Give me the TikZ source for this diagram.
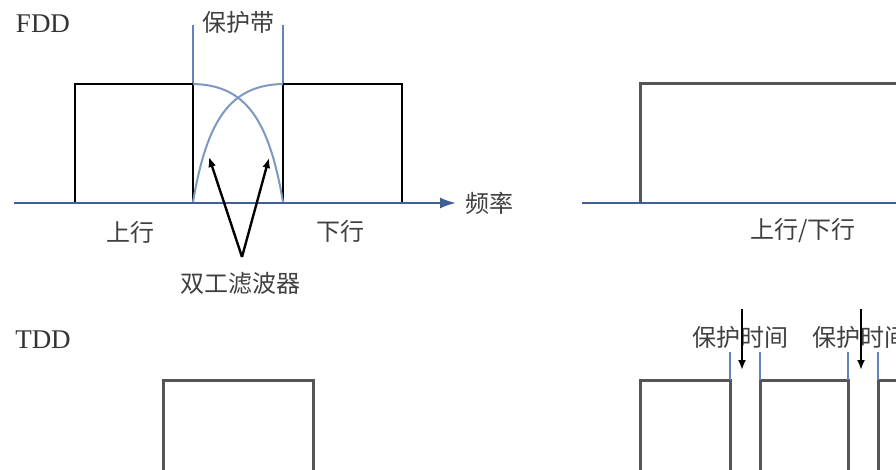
\documentclass[tikz,border=0pt]{standalone}
\usepackage{fontspec}
\setmainfont{Liberation Serif}
\newfontfamily\cjk{Noto Sans CJK SC}
\usetikzlibrary{arrows.meta}
\definecolor{axisblue}{RGB}{62,96,150}
\definecolor{guardblue}{RGB}{100,130,195}
\definecolor{filterblue}{RGB}{125,152,195}
\definecolor{boxgray}{RGB}{85,85,85}
\begin{document}
\begin{tikzpicture}[x=1pt,y=-1pt,line width=2pt,
  band/.style={draw=black,line width=2.6pt},
  slot/.style={draw=boxgray,line width=3pt},
  guard/.style={draw=guardblue,line width=1.8pt},
  filter/.style={draw=filterblue,line width=2pt},
  axis/.style={draw=axisblue,line width=2pt},
  axisarrow/.style={axis,-{Latex[length=16pt,width=11pt]},shorten >=2pt},
  label/.style={font=\cjk\fontsize{24}{28}\selectfont,text=black!75,inner sep=1pt},
  title/.style={font=\fontsize{27}{30}\selectfont,text=black!80,inner sep=0pt},
  pointer/.style={draw=black,line width=2.4pt,-{Latex[length=10pt,width=8pt]}}]
 \clip (0,0) rectangle (896,470);
 \fill[white] (0,0) rectangle (896,470);
 % FDD
 \node[title] (fdd) at (43,24) {FDD};
 \node[label] (guardband) at (238,22) {保护带};
 \draw[guard] (193,25) -- (193,84);
 \draw[guard] (283,25) -- (283,84);
 \draw[band] (75,202) -- (75,84) -- (193,84) -- (193,202);
 \draw[band] (283,202) -- (283,84) -- (402,84) -- (402,202);
 \draw[filter] (193,202) .. controls (207,120) and (230,85) .. (283,84);
 \draw[filter] (283,202) .. controls (269,120) and (246,85) .. (193,84);
 \node[label,inner sep=6pt] (freq) at (489,203) {频率};
 \coordinate (axl) at (14,203);
 \draw[axisarrow] (axl) -- (freq.west);
 \node[label] (up) at (130,232) {上行};
 \node[label] (down) at (340,231) {下行};
 \coordinate (dup) at (242,257);
 \coordinate (tipl) at (209,157);
 \coordinate (tipr) at (269,158);
 \draw[pointer] (dup) -- (tipl);
 \draw[pointer] (dup) -- (tipr);
 \node[label] (duplexer) at (240,283) {双工滤波器};
 % FDD, one band
 \coordinate (axr) at (582,203);
 \coordinate (axe) at (900,203);
 \draw[axis] (axr) -- (axe);
 \draw[slot] (640,203) -- (640,84) -- (900,84);
 \node[label] (updown) at (803,231) {上行/下行};
 % TDD
 \node[title] (tdd) at (43,340) {TDD};
 \draw[slot] (163,475) -- (163,380) -- (313,380) -- (313,475);
 % TDD, slots
 \draw[slot] (640,475) -- (640,380) -- (730,380) -- (730,475);
 \draw[slot] (760,475) -- (760,380) -- (848,380) -- (848,475);
 \draw[slot] (878,475) -- (878,380) -- (900,380);
 \foreach \x in {730,760,848,878}
   \draw[guard] (\x,352) -- (\x,380);
 \node[label] (gtime1) at (740,337) {保护时间};
 \node[label,anchor=west] (gtime2) at (810,337) {保护时间};
 \coordinate (ga1) at (742,309);
 \coordinate (gb1) at (742,370);
 \coordinate (ga2) at (861,309);
 \coordinate (gb2) at (861,370);
 \draw[pointer] (ga1) -- (gb1);
 \draw[pointer] (ga2) -- (gb2);
\end{tikzpicture}
\end{document}
